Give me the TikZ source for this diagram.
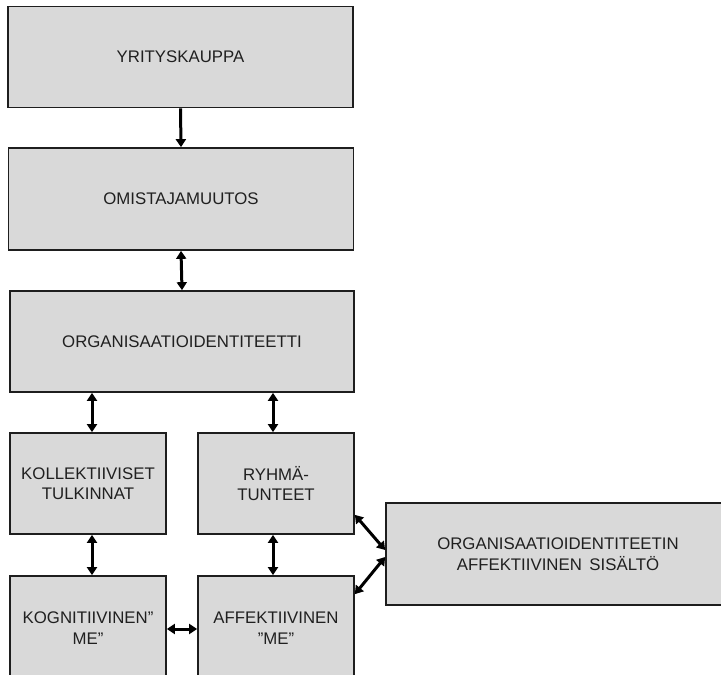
\documentclass[tikz,border=0pt]{standalone}
\usepackage{fontspec}
\setmainfont{Liberation Sans}
\usetikzlibrary{arrows.meta,calc}
\definecolor{boxfill}{HTML}{D9D9D9}
\definecolor{boxline}{HTML}{1E1E1E}
\definecolor{txt}{HTML}{202020}
\tikzset{
  box/.style={draw=boxline, line width=1.7pt, fill=boxfill, text=txt, align=center,
    inner sep=0pt, font=\fontsize{16.8}{20.5}\selectfont},
  tip/.tip={Triangle[length=8pt,width=10pt]},
  conn/.style={line width=3pt, black, -tip},
  dconn/.style={line width=3pt, black, tip-tip}
}
\begin{document}
\begin{tikzpicture}[x=1pt,y=-1pt]
\fill[white] (-10,-10) rectangle (740,700);
\node[box, minimum width=345pt, minimum height=101pt] (b1) at (180.5,57) {YRITYSKAUPPA};
\node[box, minimum width=345pt, minimum height=102pt] (b2) at (181,199) {OMISTAJAMUUTOS};
\node[box, minimum width=344pt, minimum height=101pt] (b3) at (182,341.5) {ORGANISAATIOIDENTITEETTI};
\node[box, minimum width=156pt, minimum height=101pt] (b4) at (88,483.5) {KOLLEKTIIVISET\\TULKINNAT};
\node[box, minimum width=156pt, minimum height=101pt] (b5) at (276,483.5) {RYHMÄ-\\TUNTEET};
\node[box, minimum width=156pt, minimum height=104pt] (b6) at (88,628) {KOGNITIIVINEN”\\ME”};
\node[box, minimum width=156pt, minimum height=104pt] (b7) at (276,628) {AFFEKTIIVINEN\\”ME”};
\node[box, minimum width=350pt, minimum height=102pt] (b8) at (561,554) {};
\node[text=txt, align=center, font=\fontsize{16.8}{20.5}\selectfont] (t8) at (558,554) {ORGANISAATIOIDENTITEETIN\\AFFEKTIIVINEN\hspace{0.45em}SISÄLTÖ};

\draw[conn] (b1.south) -- (b2.north);
\draw[dconn] (b2.south) -- (b3.north);
\draw[dconn] ([xshift=4pt]b4.north |- b3.south) -- ([xshift=4pt]b4.north);
\draw[dconn] ([xshift=-3pt]b5.north |- b3.south) -- ([xshift=-3pt]b5.north);
\draw[dconn] ([xshift=4pt]b4.south) -- ([xshift=4pt]b6.north);
\draw[dconn] ([xshift=-3pt]b5.south) -- ([xshift=-3pt]b7.north);
\draw[dconn] ([yshift=-1pt]b6.east) -- ([yshift=-1pt]b7.west);
\draw[dconn] ($(b5.south east)+(0,-20)$) -- ($(b8.west)+(0,-4)$);
\draw[dconn] ($(b7.north east)+(0,19)$) -- ($(b8.west)+(0,3)$);
\pgfresetboundingbox
\useasboundingbox (0,0) rectangle (721,675);
\end{tikzpicture}
\end{document}
